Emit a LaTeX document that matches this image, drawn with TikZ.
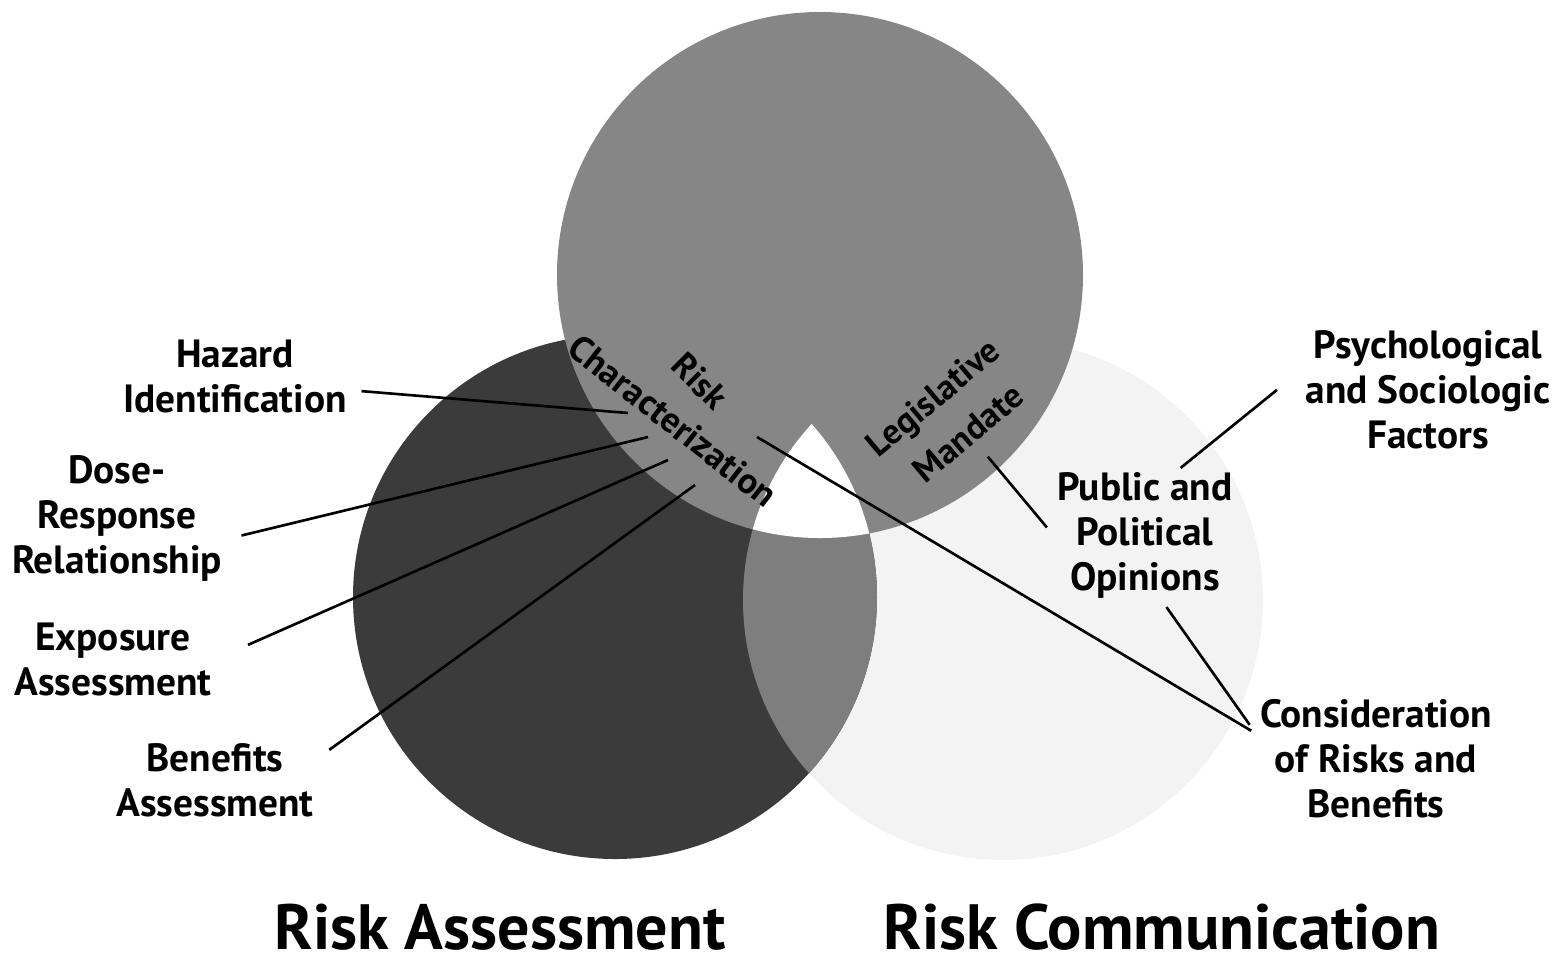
\documentclass[tikz,border=0pt]{standalone}
\usepackage{fontspec}
\setmainfont{PT Sans}
\usetikzlibrary{positioning}
\definecolor{topgray}{HTML}{868686}
\definecolor{lensgray}{HTML}{7E7E7E}
\definecolor{leftgray}{HTML}{3B3B3B}
\definecolor{rightgray}{HTML}{F3F3F3}
\tikzset{
    tag/.style={font=\bfseries\fontsize{11.2}{12.8}\selectfont, align=center, text=black, inner sep=1pt},
    title/.style={font=\bfseries\fontsize{18.2}{20}\selectfont, text=black, inner sep=1pt, anchor=base},
    arclabel/.style={font=\bfseries\fontsize{10}{12}\selectfont, align=center, text=black, inner sep=0pt},
    lead/.style={draw=black, line width=0.75pt}
}

\begin{document}
\begin{tikzpicture}[x=0.01cm, y=-0.01cm]
        \useasboundingbox (0,0) rectangle (1556,956);
        % three circles
        \coordinate (ctop) at (820,275);
        \coordinate (cleft) at (615,597);
        \coordinate (cright) at (1003,600);
        \fill [rightgray] (cright) circle [radius=260];
        \fill [leftgray] (cleft) circle [radius=262];
        \begin{scope}
            \clip (cleft) circle [radius=262];
            \fill [lensgray] (cright) circle [radius=260];
        \end{scope}
        \fill [topgray] (ctop) circle [radius=263];
        \begin{scope}
            \clip (cleft) circle [radius=262];
            \clip (cright) circle [radius=260];
            \fill [white] (ctop) circle [radius=263];
        \end{scope}

        % labels on the circles
        \node [arclabel, rotate=-45] (risk) at (700,381) {Risk};
        \node [arclabel, rotate=-38, font=\bfseries\fontsize{10.3}{12}\selectfont] (charact) at (673,421) {Characterization};
        \node [arclabel, rotate=40] (legis) at (935,400) {Legislative};
        \node [arclabel, rotate=40] (mandate) at (968,433) {Mandate};

        % outer labels
        \node [tag] (hazard) at (235,376) {Hazard\\Identification};
        \node [tag] (dose) at (117,518) {Dose-\\Response\\Relationship};
        \node [tag] (exposure) at (113,659) {Exposure\\Assessment};
        \node [tag] (benefits) at (215,780) {Benefits\\Assessment};
        \node [tag] (psych) at (1428,390) {Psychological\\and Sociologic\\Factors};
        \node [tag] (public) at (1145,535) {Public and\\Political\\Opinions};
        \node [tag] (consider) at (1376,759) {Consideration\\of Risks and\\Benefits};
        \node [title] (assess) at (500,949) {Risk Assessment};
        \node [title] (comm) at (1162,949) {Risk Communication};

        % leader lines
        \coordinate (hzTip) at (628,413);
        \coordinate (drTip) at (648,437);
        \coordinate (exTip) at (668,460);
        \coordinate (bnTip) at (695,485);
        \coordinate (rcTail) at (757,437);
        \draw [lead, shorten <=3pt] (hazard.-7) -- (hzTip);
        \draw [lead, shorten <=4.5pt] (dose.-11) -- (drTip);
        \draw [lead, shorten <=10pt] (exposure.east) -- (exTip);
        \draw [lead, shorten <=4pt] (benefits.12) -- (bnTip);
        \draw [lead, shorten >=1.5pt] (rcTail) -- (consider.168);
        \draw [lead, shorten <=5pt, shorten >=2.8pt] (mandate.south) -- (public.west);
        \draw [lead, shorten >=9pt] (public.62) -- (psych.171);
        \draw [lead, shorten <=1.7pt, shorten >=3pt] (public.-75) -- (consider.168);
    \end{tikzpicture}
\end{document}
